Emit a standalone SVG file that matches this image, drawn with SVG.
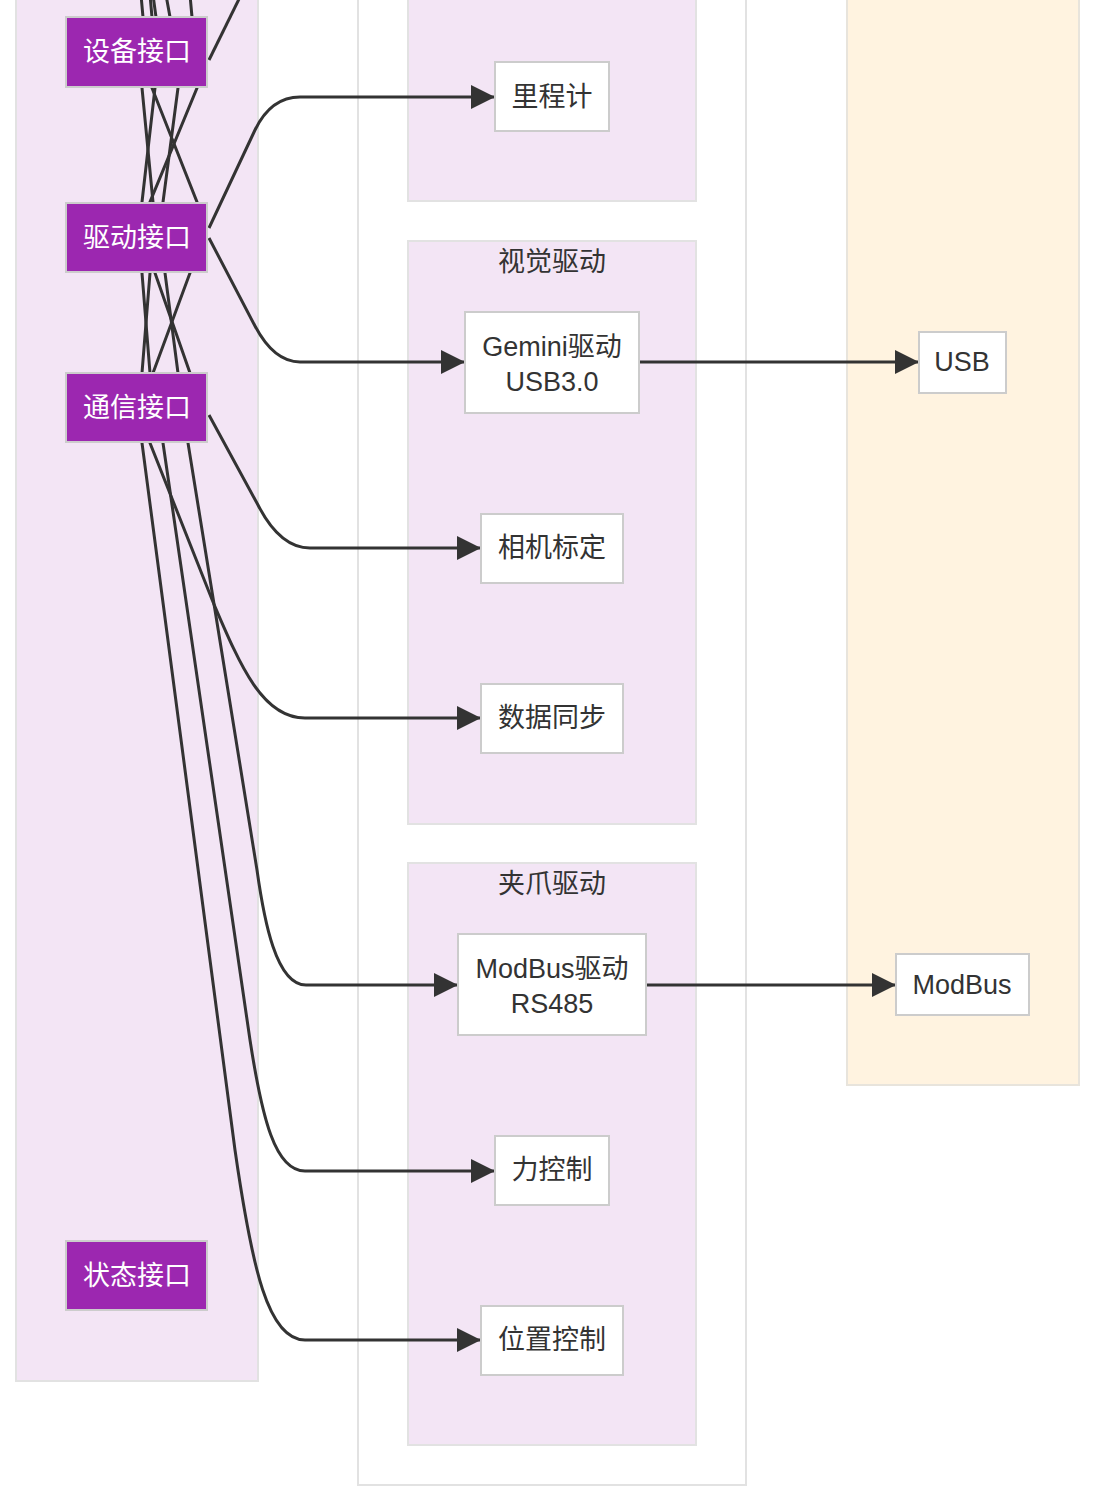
<svg xmlns="http://www.w3.org/2000/svg" width="1098" height="1492" viewBox="0 0 1098 1492">
<style>
.cl{fill:#f3e5f5;stroke:#e2e2e2;stroke-width:2}
.clw{fill:#ffffff;stroke:#e2e2e2;stroke-width:2}
.clo{fill:#fff3e0;stroke:#e8e4dc;stroke-width:2}
.np{fill:#9c27b0;stroke:#cccccc;stroke-width:2}
.nw{fill:#ffffff;stroke:#cccccc;stroke-width:2}
text{font-family:"Liberation Sans","Noto Sans CJK SC",sans-serif;font-size:27px;text-anchor:middle;dominant-baseline:central;fill:#333333}
.tw{fill:#ffffff}
.e{fill:none;stroke:#333333;stroke-width:3}
</style>
<defs>
<marker id="ar" markerUnits="userSpaceOnUse" markerWidth="26" markerHeight="26" viewBox="0 0 26 26" refX="24" refY="12" orient="auto">
<path d="M0,0 L24,12 L0,24 Z" fill="#333333"/>
</marker>
</defs>
<rect width="1098" height="1492" fill="#ffffff"/>
<g id="clusters">
<rect class="cl" x="16" y="-10" width="242" height="1391"/>
<rect class="clw" x="358" y="-10" width="388" height="1495"/>
<rect class="cl" x="408" y="-10" width="288" height="211"/>
<g id="cluster-vision"><rect class="cl" x="408" y="241" width="288" height="583"/><text x="552" y="262">视觉驱动</text></g>
<g id="cluster-gripper"><rect class="cl" x="408" y="863" width="288" height="582"/><text x="552" y="884">夹爪驱动</text></g>
<rect class="clo" x="847" y="-10" width="232" height="1095"/>
</g>
<g id="connectors">
<path class="e" d="M141,-5 L143,17 L142,88 L153,202 L155,273 L190,373 L188,443 L257,870 C264,920 276,985 306,985 L458,985" marker-end="url(#ar)"/>
<path class="e" d="M150,-5 L152,17 L152,88 L197,202 L190,273 L153,373 L150,443 L213,602 C240,665 262,718 305,718 L481,718" marker-end="url(#ar)"/>
<path class="e" d="M153,-5 L156,17 L155,88 L142,202 L150,273 L142,373 L142,443 L235,1150 C252,1268 268,1340 305,1340 L481,1340" marker-end="url(#ar)"/>
<path class="e" d="M166,-5 L170,17 L178,88 L163,202 L165,273 L178,373 L163,443 L250,1040 C262,1118 275,1171 305,1171 L495,1171" marker-end="url(#ar)"/>
<path class="e" d="M190,-5 L192,17 L197,88 L150,202 L142,273 L150,373 L150,410"/>
<path class="e" d="M209,60 L241,-5"/>
<path class="e" d="M209,228 L255,130 Q271,97 300,97 L495,97" marker-end="url(#ar)"/>
<path class="e" d="M209,238 L255,326 Q274,362 300,362 L465,362" marker-end="url(#ar)"/>
<path class="e" d="M209,415 L258,505 Q280,548 310,548 L481,548" marker-end="url(#ar)"/>
<path class="e" d="M640,362 L919,362" marker-end="url(#ar)"/>
<path class="e" d="M647,985 L896,985" marker-end="url(#ar)"/>
</g>
<g id="n-device"><rect class="np" x="66" y="17" width="141" height="70"/><text class="tw" x="137" y="52">设备接口</text></g>
<g id="n-drive"><rect class="np" x="66" y="203" width="141" height="69"/><text class="tw" x="137" y="238">驱动接口</text></g>
<g id="n-comm"><rect class="np" x="66" y="373" width="141" height="69"/><text class="tw" x="137" y="408">通信接口</text></g>
<g id="n-status"><rect class="np" x="66" y="1241" width="141" height="69"/><text class="tw" x="137" y="1276">状态接口</text></g>
<g id="n-odom"><rect class="nw" x="495" y="62" width="114" height="69"/><text x="552" y="97">里程计</text></g>
<g id="n-gemini"><rect class="nw" x="465" y="312" width="174" height="101"/><text x="552" y="347">Gemini驱动</text><text x="552" y="382">USB3.0</text></g>
<g id="n-calib"><rect class="nw" x="481" y="514" width="142" height="69"/><text x="552" y="548">相机标定</text></g>
<g id="n-sync"><rect class="nw" x="481" y="684" width="142" height="69"/><text x="552" y="718">数据同步</text></g>
<g id="n-modbusdrv"><rect class="nw" x="458" y="934" width="188" height="101"/><text x="552" y="969">ModBus驱动</text><text x="552" y="1004">RS485</text></g>
<g id="n-force"><rect class="nw" x="495" y="1136" width="114" height="69"/><text x="552" y="1170">力控制</text></g>
<g id="n-pos"><rect class="nw" x="481" y="1306" width="142" height="69"/><text x="552" y="1340">位置控制</text></g>
<g id="n-usb"><rect class="nw" x="919" y="332" width="87" height="61"/><text x="962" y="362">USB</text></g>
<g id="n-modbus"><rect class="nw" x="896" y="954" width="133" height="61"/><text x="962" y="985">ModBus</text></g>
</svg>
